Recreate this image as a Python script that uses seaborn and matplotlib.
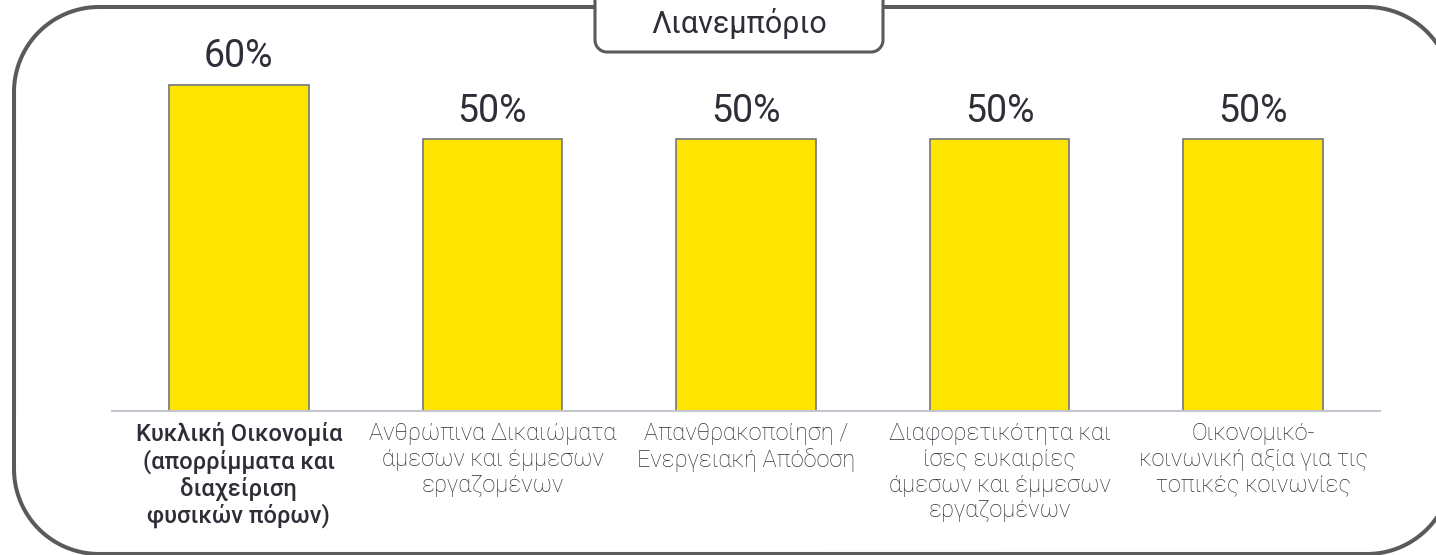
import matplotlib
matplotlib.use("Agg")
import numpy as np
import matplotlib.pyplot as plt
import seaborn as sns
from matplotlib.lines import Line2D
from matplotlib.patches import Polygon
from matplotlib.transforms import IdentityTransform

categories = [
    "Κυκλική Οικονομία\n(απορρίμματα και\nδιαχείριση\nφυσικών πόρων)",
    "Ανθρώπινα Δικαιώματα\nάμεσων και έμμεσων\nεργαζομένων",
    "Απανθρακοποίηση /\nΕνεργειακή Απόδοση",
    "Διαφορετικότητα και\nίσες ευκαιρίες\nάμεσων και έμμεσων\nεργαζομένων",
    "Οικονομικό-\nκοινωνική αξία για τις\nτοπικές κοινωνίες",
]
values = [60, 50, 50, 50, 50]
title = "Λιανεμπόριο"

sns.set_theme(style="white")
plt.rcParams["font.family"] = ["Roboto", "DejaVu Sans"]

W, H = 1436, 555
fig = plt.figure(figsize=(W / 100, H / 100), dpi=100)
fig.patch.set_facecolor("white")
px = IdentityTransform()  # display pixels, origin bottom-left


def rounded_rect(x0, y0, x1, y1, r, n=60):
    """Rounded rectangle in pixel coords measured from the top-left corner."""
    pts = []
    corners = [
        (x1 - r, y0 + r, -90, 0),
        (x1 - r, y1 - r, 0, 90),
        (x0 + r, y1 - r, 90, 180),
        (x0 + r, y0 + r, 180, 270),
    ]
    for cx, cy, a0, a1 in corners:
        t = np.radians(np.linspace(a0, a1, n))
        pts.append(np.column_stack([cx + r * np.cos(t), cy + r * np.sin(t)]))
    pts.append(pts[0][:1])
    p = np.vstack(pts)
    p[:, 1] = H - p[:, 1]
    return p


frame_col = "#5a5a5a"
fr = rounded_rect(14, 7, 1452, 554, 85)
fig.add_artist(Line2D(fr[:, 0], fr[:, 1], color=frame_col, lw=2.9,
                      transform=px, zorder=0))

tab = rounded_rect(595, -40, 883, 52, 12)
fig.add_artist(Polygon(tab, closed=True, facecolor="white", edgecolor=frame_col,
                       lw=2.2, transform=px, zorder=3))
fig.text(739, H - 33, title, ha="center", va="baseline", fontsize=22,
         color="#2e2e38", transform=px, zorder=4)

# bar axes
ax_bottom = (H - 411) / H
ax_top = (H - 70) / H
ax = fig.add_axes([112 / W, ax_bottom, (1380 - 112) / W, ax_top - ax_bottom], zorder=1)
ax.patch.set_alpha(0)

sns.barplot(x=list(range(len(values))), y=values, color="#FFE600", saturation=1,
            edgecolor="#747480", linewidth=1.2, width=0.55, ax=ax)

ax.set_xlim(-0.5, len(values) - 0.5)
ax.set_ylim(0, (411 - 70) / (326 / 60))
ax.bar_label(ax.containers[0], labels=[f"{v}%" for v in values], padding=7,
             fontsize=27, color="#2e2e38")

for s in ["top", "right", "left"]:
    ax.spines[s].set_visible(False)
ax.spines["bottom"].set_color("#c4c4cd")
ax.spines["bottom"].set_linewidth(1.5)
ax.set_yticks([])
ax.set_xticks(range(len(values)))
ax.set_xticklabels(categories, fontsize=17, color="#2e2e38", linespacing=1.15)
ax.tick_params(axis="x", length=0, pad=8)
for i, t in enumerate(ax.get_xticklabels()):
    t.set_fontweight("medium" if i == 0 else "light")
ax.set_xlabel("")
ax.set_ylabel("")

fig.savefig("out.png", dpi=100)
